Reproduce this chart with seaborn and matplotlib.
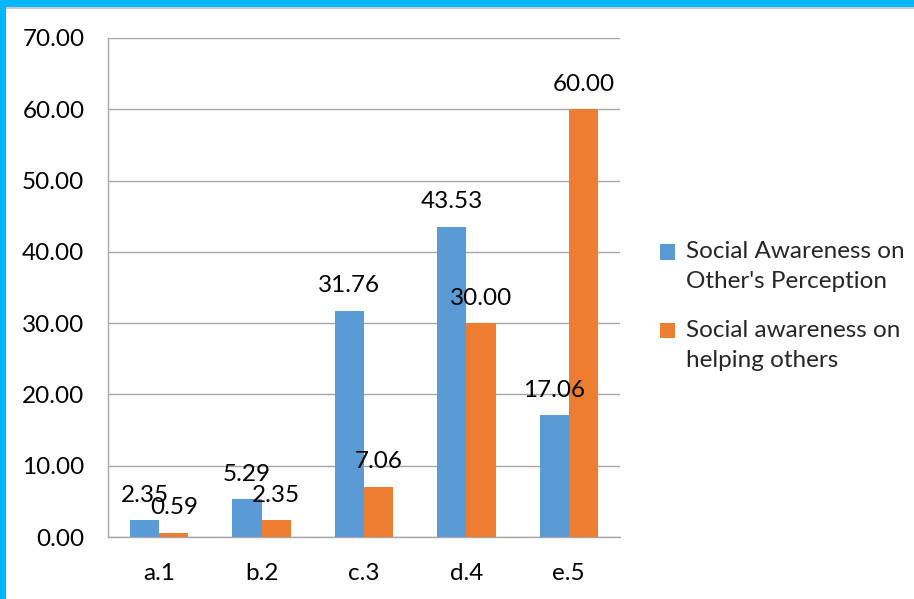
import matplotlib
matplotlib.use("Agg")
import matplotlib.pyplot as plt
from matplotlib.patches import Rectangle
from matplotlib.legend_handler import HandlerPatch
from matplotlib.ticker import FixedLocator
import seaborn as sns
import pandas as pd

categories = ["a.1", "b.2", "c.3", "d.4", "e.5"]
perception = [2.35, 5.29, 31.76, 43.53, 17.06]
helping = [0.59, 2.35, 7.06, 30.00, 60.00]
series_names = ["Social Awareness on\nOther's Perception",
                "Social awareness on\nhelping others"]
y_ticks = [0, 10, 20, 30, 40, 50, 60, 70]

df = pd.DataFrame({
    "category": categories * 2,
    "value": perception + helping,
    "series": [series_names[0]] * len(categories) + [series_names[1]] * len(categories),
})

sns.set_theme(style="white")
plt.rcParams["font.family"] = ["Lato", "DejaVu Sans"]
FS = 17.5

W, H = 914, 599
fig = plt.figure(figsize=(W / 100, H / 100), dpi=100)
ax = fig.add_axes([108 / W, 62 / H, 512 / W, 499 / H])

palette = {series_names[0]: "#5B9BD5", series_names[1]: "#ED7D31"}
sns.barplot(data=df, x="category", y="value", hue="series", palette=palette,
            width=0.57, ax=ax, saturation=1, errorbar=None, linewidth=0, zorder=3)

ax.set_ylim(0, 70)
ax.set_xlim(-0.5, 4.5)
ax.set_yticks(y_ticks)
ax.set_yticklabels([f"{v:.2f}" for v in y_ticks], fontsize=FS)
ax.set_xlabel("")
ax.set_ylabel("")
ax.tick_params(axis="x", which="major", length=0, labelsize=FS, pad=19)
ax.xaxis.set_minor_locator(FixedLocator([i - 0.5 for i in range(len(categories) + 1)]))
ax.tick_params(axis="x", which="minor", length=6.5, width=1, color="#A6A6A6", direction="out")
ax.tick_params(axis="y", length=6, width=1, color="#A6A6A6", direction="out", pad=11,
               labelcolor="black")
ax.tick_params(axis="x", labelcolor="black")
ax.grid(axis="y", color="#A6A6A6", linewidth=1, zorder=0)
ax.set_axisbelow(True)
for side in ["top", "right"]:
    ax.spines[side].set_visible(False)
for side in ["left", "bottom"]:
    ax.spines[side].set_color("#A6A6A6")
    ax.spines[side].set_linewidth(1)

# value labels above each bar
for container in ax.containers:
    ax.bar_label(container, fmt="%.2f", fontsize=FS, padding=10.5, color="black")


# square legend key aligned with the first line of its label
def first_line_key(legend, orig_handle, xdescent, ydescent, width, height, fontsize):
    return Rectangle((-xdescent, -ydescent + 0.6 * fontsize), width, height)


handles, labels = ax.get_legend_handles_labels()
leg = ax.legend(handles, labels, loc="center left", bbox_to_anchor=(1.06, 0.463),
                frameon=False, fontsize=FS, handlelength=0.6, handleheight=0.6,
                handletextpad=0.45, labelspacing=1.13, borderaxespad=0,
                handler_map={Rectangle: HandlerPatch(patch_func=first_line_key)})
for t in leg.get_texts():
    t.set_linespacing(1.54)

# cyan frame along the top and left edges
fig.patches.append(Rectangle((0, (H - 7) / H), 1, 7 / H, transform=fig.transFigure,
                             facecolor="#00B6FF", edgecolor="none", zorder=10))
fig.patches.append(Rectangle((0, (H - 9) / H), 1, 2 / H, transform=fig.transFigure,
                             facecolor="#C8C8C8", edgecolor="none", zorder=9))
fig.patches.append(Rectangle((0, 0), 6 / W, 1, transform=fig.transFigure,
                             facecolor="#00B6FF", edgecolor="none", zorder=10))

fig.savefig("out.png", dpi=100, facecolor="white")
